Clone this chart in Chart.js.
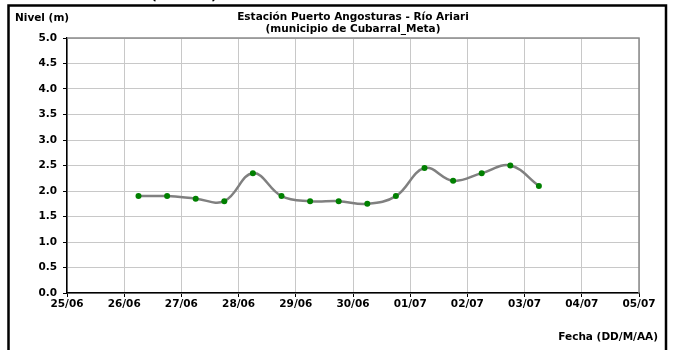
<!DOCTYPE html>
<html>
<head>
<meta charset="utf-8">
<script src="https://cdn.jsdelivr.net/npm/chart.js@4"></script>
<style>
  html, body { margin: 0; padding: 0; background: #fff; }
  #wrap { width: 673px; height: 350px; position: relative; }
</style>
</head>
<body>
<div id="wrap"><canvas id="nivelChart" width="673" height="350"></canvas></div>
<script>
// tick labels of the date axis (one per day, 25/06 = 0)
const dateLabels = ['25/06', '26/06', '27/06', '28/06', '29/06', '30/06', '01/07', '02/07', '03/07', '04/07', '05/07'];
// reading times, in days after 25/06 00:00 (06h and 18h readings)
const readingDays = [1.25, 1.75, 2.25, 2.75, 3.25, 3.75, 4.25, 4.75, 5.25, 5.75, 6.25, 6.75, 7.25, 7.75, 8.25];
// water level (m)
const nivelValues = [1.9, 1.9, 1.85, 1.8, 2.35, 1.9, 1.8, 1.8, 1.75, 1.9, 2.45, 2.2, 2.35, 2.5, 2.1];

const titleLines = ['Estación Puerto Angosturas - Río Ariari', '(municipio de Cubarral_Meta)'];
const yAxisTitle = 'Nivel (m)';
const xAxisTitle = 'Fecha (DD/M/AA)';

const FONT = '"DejaVu Sans", sans-serif';

const points = readingDays.map((d, i) => ({x: d, y: nivelValues[i]}));

// frame, titles and plot border
const decorPlugin = {
    id: 'decor',
    afterDraw(chart) {
        const ctx = chart.ctx;
        const a = chart.chartArea;
        ctx.save();
        // plot area top/right border
        ctx.strokeStyle = '#8a8a8a';
        ctx.lineWidth = 1.5;
        ctx.beginPath();
        ctx.moveTo(a.left, a.top);
        ctx.lineTo(a.right, a.top);
        ctx.lineTo(a.right, a.bottom);
        ctx.stroke();

        // outer frame (bottom edge falls outside the picture)
        ctx.strokeStyle = '#000';
        ctx.lineWidth = 2.5;
        ctx.beginPath();
        ctx.moveTo(8.5, 360);
        ctx.lineTo(8.5, 5.5);
        ctx.lineTo(666, 5.5);
        ctx.lineTo(666, 360);
        ctx.stroke();

        // clipped text above the frame
        ctx.fillStyle = '#000';
        ctx.font = 'bold 13px ' + FONT;
        ctx.textAlign = 'center';
        ctx.textBaseline = 'alphabetic';
        ctx.fillText('(', 154, 0);
        ctx.fillText(')', 214, 0);

        // titles
        ctx.font = 'bold 10.5px ' + FONT;
        ctx.textBaseline = 'middle';
        const cx = (a.left + a.right) / 2;
        ctx.fillText(titleLines[0], cx, 17);
        ctx.fillText(titleLines[1], cx, 29);

        ctx.textAlign = 'left';
        ctx.fillText(yAxisTitle, 15, 18);

        ctx.textAlign = 'right';
        ctx.fillText(xAxisTitle, 658, 337);
        ctx.restore();
    }
};

function initiateNivelChart() {
    const grapharea = document.getElementById('nivelChart').getContext('2d');

    let nivelChart = new Chart(grapharea, {
        type: 'line',
        data: {
            datasets: [{
                label: yAxisTitle,
                data: points,
                borderColor: '#808080',
                borderWidth: 2.5,
                tension: 0.4,
                fill: false,
                pointRadius: 3,
                pointHoverRadius: 3,
                pointBackgroundColor: '#008000',
                pointBorderColor: '#008000',
                pointBorderWidth: 0
            }]
        },
        options: {
            responsive: false,
            animation: false,
            events: [],
            layout: {
                padding: {top: 38, right: 34, left: 0, bottom: 0}
            },
            plugins: {
                legend: {display: false},
                title: {display: false},
                tooltip: {enabled: false}
            },
            scales: {
                x: {
                    type: 'linear',
                    min: 0,
                    max: 10,
                    afterFit(scale) { scale.height = 57; },
                    ticks: {
                        stepSize: 1,
                        autoSkip: false,
                        maxRotation: 0,
                        padding: 1,
                        color: '#000',
                        font: {family: FONT, size: 10.5, weight: 'bold'},
                        callback: (v) => dateLabels[v]
                    },
                    grid: {
                        color: '#c8c8c8',
                        lineWidth: 1,
                        tickLength: 4,
                        tickColor: '#000'
                    },
                    border: {color: '#000', width: 1.5}
                },
                y: {
                    min: 0,
                    max: 5,
                    afterFit(scale) { scale.width = 67; },
                    ticks: {
                        stepSize: 0.5,
                        padding: 6,
                        color: '#000',
                        font: {family: FONT, size: 10.5, weight: 'bold'},
                        callback: (v) => v.toFixed(1)
                    },
                    grid: {
                        color: '#c8c8c8',
                        lineWidth: 1,
                        tickLength: 4,
                        tickColor: '#000'
                    },
                    border: {color: '#000', width: 1.5}
                }
            }
        },
        plugins: [decorPlugin]
    });
    return nivelChart;
}

initiateNivelChart();
</script>
</body>
</html>
